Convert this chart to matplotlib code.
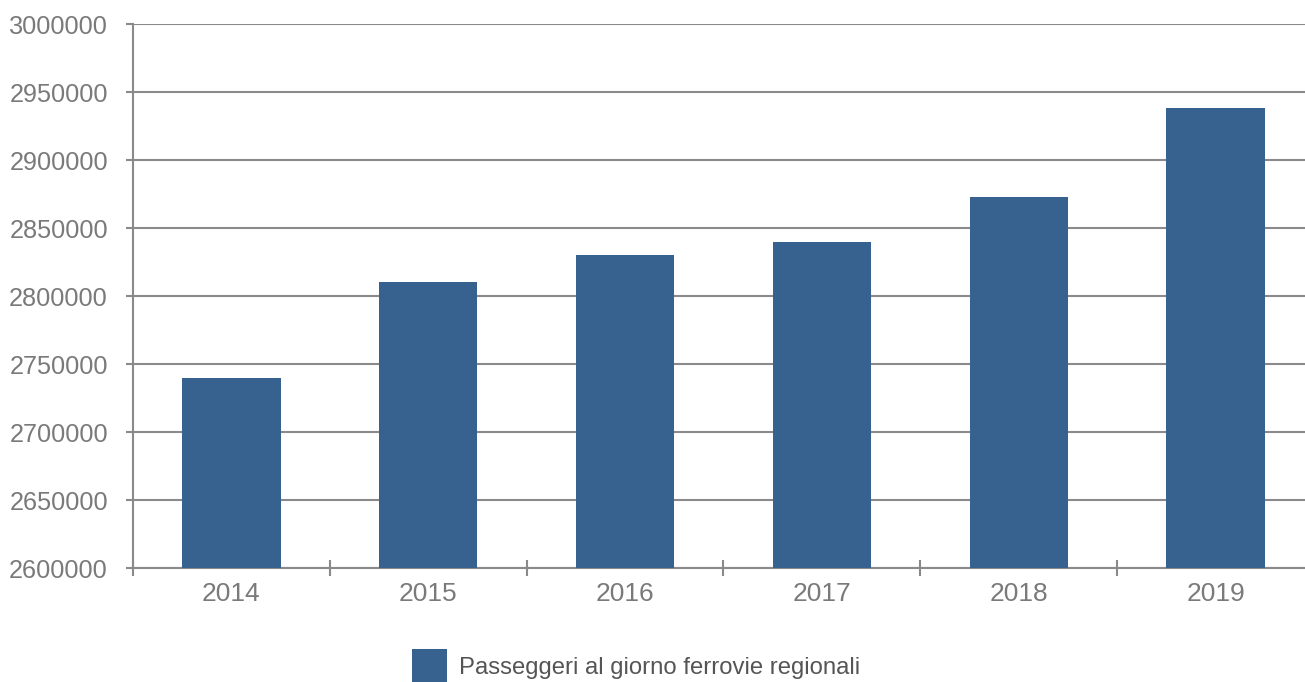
import matplotlib
matplotlib.use("Agg")
import matplotlib.pyplot as plt
from matplotlib.patches import Patch

years = ["2014", "2015", "2016", "2017", "2018", "2019"]
passengers = [2740000, 2810000, 2830000, 2840000, 2873000, 2938000]
series_label = "Passeggeri al giorno ferrovie regionali"
yticks = [2600000, 2650000, 2700000, 2750000, 2800000, 2850000, 2900000, 2950000, 3000000]

bar_color = "#37618f"
grey = "#8a8a8a"
text_color = "#7a7a7a"

plt.rcParams['font.family'] = ['Liberation Sans', 'DejaVu Sans']

fig = plt.figure(figsize=(13.05, 6.82), dpi=100)
ax = fig.add_axes([133/1305, 1-568/682, (1314-133)/1305, (568-24)/682])

x = list(range(len(years)))
ax.bar(x, passengers, width=0.5, color=bar_color, zorder=3)
ax.set_xlim(-0.5, len(years)-0.5)
ax.set_ylim(2600000, 3000000)
ax.set_yticks(yticks)
ax.set_yticklabels([str(v) for v in yticks])
ax.set_xticks(x)
ax.set_xticklabels(years)
ax.set_xticks([i - 0.5 for i in range(len(years))], minor=True)

ax.yaxis.grid(True, color=grey, linewidth=1.5, zorder=0)
ax.set_axisbelow(True)
for s in ["top", "right"]:
    ax.spines[s].set_visible(False)
for s in ["left", "bottom"]:
    ax.spines[s].set_color(grey)
    ax.spines[s].set_linewidth(1.5)

ax.tick_params(axis='y', which='major', direction='out', length=5, width=1.5, color=grey,
               labelsize=18.2, labelcolor=text_color, pad=13)
ax.tick_params(axis='x', which='major', length=0, labelsize=19, labelcolor=text_color, pad=10)
ax.tick_params(axis='x', which='minor', direction='inout', length=12, width=1.5, color=grey)

handles = [Patch(facecolor=bar_color, label=series_label)]
leg = fig.legend(handles=handles, loc='center left', bbox_to_anchor=(412/1305, 1-666/682),
                 frameon=False, borderpad=0, borderaxespad=0,
                 fontsize=17.2, handlelength=1.46, handleheight=1.75, handletextpad=0.5,
                 labelcolor="#555555")

fig.savefig("out.png", dpi=100)
